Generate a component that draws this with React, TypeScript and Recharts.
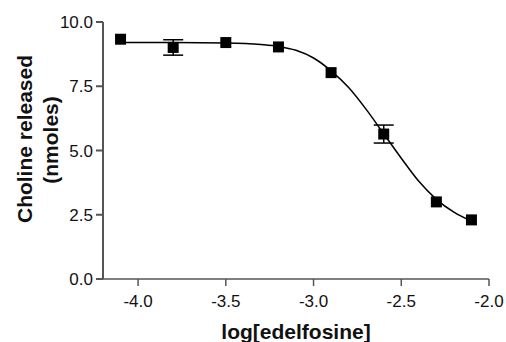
import React from 'react'
import { ComposedChart, Line, Scatter, ErrorBar, XAxis, YAxis, ZAxis } from 'recharts'

// measured points (log dose, choline nmoles, sem)
const logDose = [-4.1, -3.8, -3.5, -3.2, -2.9, -2.6, -2.3, -2.1]
const choline = [9.33, 9.01, 9.2, 9.03, 8.03, 5.64, 3.0, 2.3]
const sem = [0, 0.3, 0, 0, 0, 0.35, 0, 0]

// fitted curve
const curveX = [-4.1, -3.8, -3.5, -3.3, -3.2, -3.1, -3.0, -2.9, -2.8, -2.7, -2.6, -2.5, -2.4, -2.3, -2.2, -2.1]
const curveY = [9.2, 9.2, 9.18, 9.12, 9.05, 8.9, 8.6, 8.1, 7.45, 6.6, 5.65, 4.7, 3.8, 3.1, 2.6, 2.25]

const xTicks = [-4.0, -3.5, -3.0, -2.5, -2.0]
const yTicks = [0, 2.5, 5.0, 7.5, 10.0]

const points = logDose.map((x, i) => ({ x, y: choline[i], err: sem[i] }))
const curve = curveX.map((x, i) => ({ x, y: curveY[i] }))

const font = 'Liberation Sans, Arial, Helvetica, sans-serif'
const axisColor = '#555'

const YTitle = () => (
  <g fontFamily={font} fontWeight="bold" fontSize={21} fill="#111" textAnchor="middle">
    <text transform="translate(32,139) rotate(-90)">Choline released</text>
    <text transform="translate(58,140) rotate(-90)">(nmoles)</text>
  </g>
)

export default function App() {
  return (
    <div style={{ position: 'absolute', left: 0, top: 0, width: 506, height: 342, background: '#fff' }}>
      <ComposedChart width={506} height={342} margin={{ top: 22, right: 17, bottom: 0, left: 0 }}>
        <XAxis
          dataKey="x"
          type="number"
          domain={[-4.2, -2.0]}
          ticks={xTicks}
          tickFormatter={(v: number) => v.toFixed(1)}
          height={63}
          stroke={axisColor}
          strokeWidth={1.5}
          tickSize={7}
          tickMargin={9}
          tick={{ fill: '#111', fontSize: 17, fontFamily: font }}
          allowDataOverflow
          label={{ value: 'log[edelfosine]', position: 'insideBottom', offset: 3, style: { fontFamily: font, fontWeight: 'bold', fontSize: 21, fill: '#111' } }}
        />
        <YAxis
          dataKey="y"
          type="number"
          domain={[0, 10]}
          ticks={yTicks}
          tickFormatter={(v: number) => v.toFixed(1)}
          width={103}
          stroke={axisColor}
          strokeWidth={2}
          tickSize={7}
          tickMargin={3}
          tick={{ fill: '#111', fontSize: 17, fontFamily: font }}
          label={{ content: () => <YTitle /> }}
        />
        <ZAxis range={[121, 121]} />
        <Line
          data={curve}
          dataKey="y"
          type="monotone"
          stroke="#000"
          strokeWidth={1.5}
          dot={false}
          activeDot={false}
          isAnimationActive={false}
        />
        <Scatter data={points} dataKey="y" shape="square" fill="#000" isAnimationActive={false}>
          <ErrorBar dataKey="err" direction="y" width={10} stroke="#000" strokeWidth={1.5} />
        </Scatter>
      </ComposedChart>
    </div>
  )
}
